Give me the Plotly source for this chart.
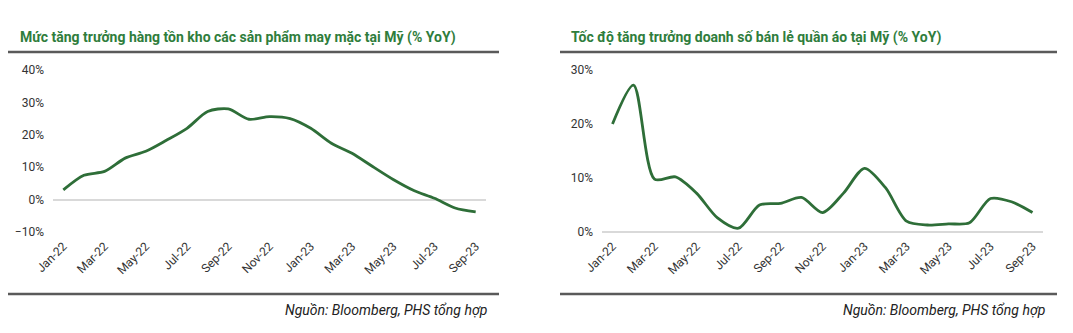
import plotly.graph_objects as go

# Monthly categories, Jan-22 .. Sep-23
months = ["Jan-22", "Feb-22", "Mar-22", "Apr-22", "May-22", "Jun-22", "Jul-22",
          "Aug-22", "Sep-22", "Oct-22", "Nov-22", "Dec-22", "Jan-23", "Feb-23",
          "Mar-23", "Apr-23", "May-23", "Jun-23", "Jul-23", "Aug-23", "Sep-23"]
tick_months = months[::2]

# Apparel inventory growth, % YoY
inventory_yoy = [3.0, 7.5, 8.7, 12.8, 14.9, 18.3, 22.0, 27.2, 28.0, 24.8, 25.6,
                 25.0, 22.0, 17.4, 14.3, 10.2, 6.2, 2.8, 0.4, -2.6, -3.8]

# Apparel retail sales growth, % YoY
retail_yoy = [20.0, 27.2, 9.8, 10.2, 7.2, 2.6, 0.7, 5.0, 5.3, 6.4, 3.6,
              7.2, 11.8, 8.2, 2.0, 1.3, 1.5, 1.7, 6.2, 5.6, 3.6]

titles = ["Mức tăng trưởng hàng tồn kho các sản phẩm may mặc tại Mỹ (% YoY)",
          "Tốc độ tăng trưởng doanh số bán lẻ quần áo tại Mỹ (% YoY)"]
source = "Nguồn: Bloomberg, PHS tổng hợp"

W, H = 1073, 333
LINE = "#2e6e38"
TITLE = "#2f7d3c"
FONT = "Roboto, Arial, sans-serif"

def px(x):
    return x / W

def py(y):
    return 1 - y / H

fig = go.Figure()
fig.add_trace(go.Scatter(x=months, y=inventory_yoy, mode="lines",
                         line=dict(color=LINE, width=2.8, shape="spline", smoothing=0.8),
                         xaxis="x", yaxis="y", showlegend=False))
fig.add_trace(go.Scatter(x=months, y=retail_yoy, mode="lines",
                         line=dict(color=LINE, width=2.8, shape="spline", smoothing=0.8),
                         xaxis="x2", yaxis="y2", showlegend=False))

ydom = [py(232), py(70)]
xcommon = dict(type="category", categoryorder="array", categoryarray=months,
               tickmode="array", tickvals=tick_months, ticktext=tick_months,
               tickangle=-45, showgrid=False, showline=False, zeroline=False,
               ticks="", automargin=False, ticklabelstandoff=4,
               tickfont=dict(family=FONT, size=12, color="#333333"))
ycommon = dict(showgrid=False, showline=False, ticks="", automargin=False,
               zeroline=True, zerolinecolor="#d9d9d9", zerolinewidth=1.5,
               ticklabelstandoff=8,
               tickfont=dict(family=FONT, size=12, color="#333333"),
               ticksuffix="%")

fig.update_layout(
    width=W, height=H,
    margin=dict(l=0, r=0, t=0, b=0),
    paper_bgcolor="white", plot_bgcolor="white",
    font=dict(family=FONT),
    xaxis=dict(domain=[px(53), px(486)], anchor="y", range=[-0.5, 20.5], **xcommon),
    yaxis=dict(domain=ydom, anchor="x", range=[-10, 40], dtick=10, **ycommon),
    xaxis2=dict(domain=[px(602), px(1043)], anchor="y2", range=[-0.5, 20.5], **xcommon),
    yaxis2=dict(domain=ydom, anchor="x2", range=[0, 30], dtick=10, **ycommon),
)

shapes = []
annotations = []
panels = [(8, 499, 18, 489), (560, 1057, 569, 1047)]
for (x0, x1, tx, sx), title in zip(panels, titles):
    for yline in (52, 294):
        shapes.append(dict(type="line", xref="paper", yref="paper",
                           x0=px(x0), x1=px(x1), y0=py(yline), y1=py(yline),
                           line=dict(color="#5a5a5a", width=2.5)))
    annotations.append(dict(text="<b>" + title + "</b>", xref="paper", yref="paper",
                            x=px(tx), y=py(38), xanchor="left", yanchor="middle",
                            showarrow=False,
                            font=dict(family=FONT, size=14, color=TITLE)))
    annotations.append(dict(text="<i>" + source + "</i>", xref="paper", yref="paper",
                            x=px(sx), y=py(310), xanchor="right", yanchor="middle",
                            showarrow=False,
                            font=dict(family=FONT, size=14, color="#222222")))

fig.update_layout(shapes=shapes, annotations=annotations)
fig.write_html("out.html")
